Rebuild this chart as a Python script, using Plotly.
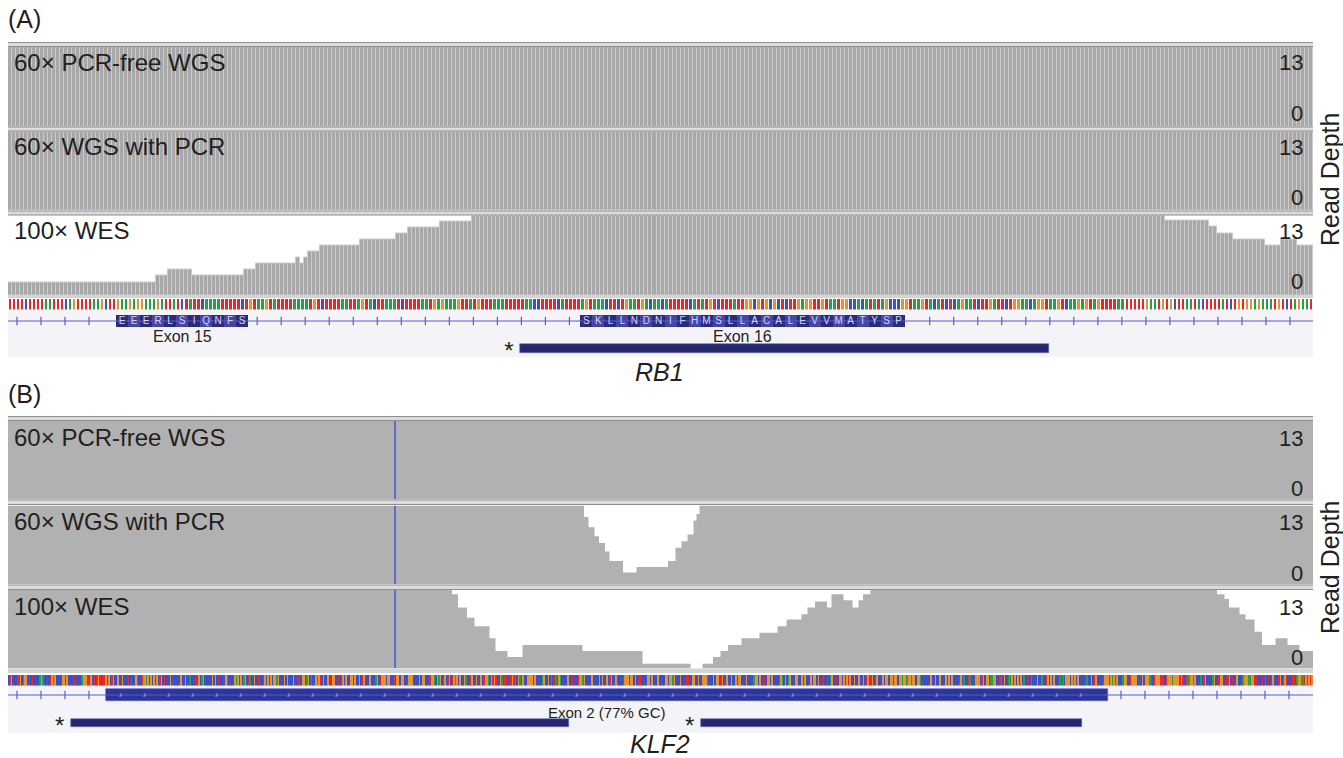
import numpy as np
import plotly.graph_objects as go

W, H = 1343, 758
FONT = "Liberation Sans, Arial, Helvetica, sans-serif"
TXT = "#231f20"

# ---------------- shared labels ----------------
track_names = ["60× PCR-free WGS", "60× WGS with PCR", "100× WES"]
depth_range = [0, 13]
depth_labels = ["13", "0"]
axis_title = "Read Depth"
panel_letters = ["(A)", "(B)"]
gene_names = ["RB1", "KLF2"]

base_colors = {"A": "#22a04a", "C": "#3c4fc4", "G": "#e8922e", "T": "#e8262b"}

# ---------------- Panel A (RB1, ~4 px per base) ----------------
a_intron1 = "TTTTCTTTTAATTTCAGTTTTAAGCTTTCT"[:27]
a_exon15 = "GAAGAGGAAAGATTATCTATTCAAAATTTTTCT"
a_intron2 = "GTAAGTATTTTAAAATGTCTTTTAATTAGTACTTAAATCTTTTAATGAGAAAGTTATGTTTAAATTTTTAACCTTTTCATTTTAAAGTTTTAG"[:83]
a_exon16 = "AGTAAACTTCTGAATGACAACATTTTTCATATGTCTTTATTGGCGTGCGCTCTTGAGGTTGTAATGGCCACATATAGCCCG"
a_intron3 = "GTAAGTACATCTCAGAATCTTGATTCTGGAACAGGTAAGTCAAGAGTAGTTTTAATTTTTGAATGTGCTTAATACTTTTATCTGTGGAGAAATGTCTAGAATCTGC"[:102]
a_seq = a_intron1 + a_exon15 + a_intron2 + a_exon16 + a_intron3

a_pcrfree_start = [0]
a_pcrfree_depth = [13]
a_pcr_start = [0]
a_pcr_depth = [13]
a_wes_start = [0, 37, 40, 46, 59, 62, 72, 73, 74, 75, 78, 88, 97, 100, 108, 116,
               289, 300, 302, 306, 314, 318, 322]
a_wes_depth = [2.1, 3.2, 4.1, 3.2, 4.1, 5.2, 6.2, 5.2, 6.2, 7.1, 8.1, 9.1, 10.1, 11.1, 12.1, 13,
               12.2, 11.2, 10.1, 9.0, 8.1, 9.0, 8.1]

a_exon_start = [27, 143]
a_exon_end = [60, 224]
a_exon_labels = ["Exon 15", "Exon 16"]
a_exon_aa = ["EEERLSIQNFS", "SKLLNDNIFHMSLLACALEVVMATYSP"]
a_amp_start = [128]
a_amp_end = [260]

# ---------------- Panel B (KLF2, ~1.5 px per base) ----------------
b_flank_left = "CTGCCCTTGCAGGCTCTCCCCAGACCTCTGAGCCCCGGTGCCCCTCCCCAGGGTTGCTCTGTCTTCCAG"[:65]
b_exon2 = (
    "GCGCTGCCGCCGCCCTCTCCGACCTGGAGCGCGCGCTGCTCCCGCTCCCCGCCGCCACCCTCGCAGCCCCCGCGCTCCCCGACCCCGAGCGCAGCTACC"
    "GCCTCCTGCGCGCGGAGCCCGCGCCCGCCTTCGGCAGCACCGAGTCGCCGCTGGCCTCCGCGCCGGCGCCGCTGCCCGCCCAGCTGGGCGGCCTCGGCG"
    "GCCTGGGCCCCGCGGCCCTGGACGAGCTGCTGCTGAGCGCCGACCTGCCGCCGCTGGACGTGTCCGACTTCCTGTACGACGCCGGGGCGCCCCAGCCG"
    "CACTACGACCCCGCCTCCCTGGAGCCCCGCCCCGCGCCGCTGCCGTCCCTGGGCGGCGCTTCCCCGGCGCCCGCCCCGGCGGAGCCCGCCCTTCCGGC"
    "CGCCGGGACCCGCGGCTGCTGCCGCCGCGGCCCGCCCCAGGCGCCTCGGCGCCCCTGACGCAGCCCGGCCGCGCCCGCGGCGCCTCCTCAGCCTCGGC"
    "GCGTGCCGCCGCCGCTGCTGCTGCCCGCGGCGGCGGCGGAGGAGGAGGCGGACCCCCCGCCGCCGCCCGCGCGCCCCTGCACCTACCCGGGCTGCGG"
    "CAAGGCCTACGCCAAGCGCGCGCACCTCACCCGCCACCTGCGCGCCCACACGGGCGAGCGCCCCTACCGCTGCCCCTGGCCCGGCTGCGCCCAGCGC"
    "TTCGCCCGCTCCGACGAGCTGTCGCGCCACCTGCGGACGCACACGGGCGAGAAGCCCTACGCCTGCGGAGCTTGCGGCAAGAGCTTCGCGCGCTCCG"
)[:668]
b_flank_right = "GTGAGTGCCCAGGCCTGGGGCTCGCGGGATCTGGGTTTCTGGGAGGGGTGTCTAAGGAGCCCACTGCCCCAGCCTGGCCTTGCTCTGCCCAGGGAAGGTTCCCTCACTCTGCCCTGCTGTCCCTTCAGGAATGTGTGCATAAATTAG"[:137]
b_seq = b_flank_left + b_exon2 + b_flank_right

b_pcrfree_start = [0]
b_pcrfree_depth = [13]
b_pcr_start = [0, 384, 387, 391, 394, 398, 401, 410, 419, 440, 445, 449, 453, 457, 459, 461]
b_pcr_depth = [13, 11.1, 9.4, 7.9, 6.8, 5.4, 3.8, 1.9, 2.8, 3.8, 6.0, 7.1, 8.2, 10.5, 11.6, 13]
b_wes_start = [0, 296, 300, 306, 311, 321, 325, 333, 343, 383, 423, 455, 463, 470, 475, 480,
               489, 501, 513, 519, 529, 533, 538, 546, 549, 557, 563, 567, 570, 575,
               806, 811, 814, 821, 825, 831, 836, 845, 853, 861]
b_wes_depth = [13, 12.3, 10.1, 8.4, 7.0, 5.0, 2.9, 1.9, 3.9, 2.9, 0.8, 0.0, 0.8, 1.9, 2.9, 3.9,
               5.0, 5.9, 7.0, 8.1, 9.0, 10.1, 11.1, 10.1, 12.3, 11.3, 10.1, 11.3, 12.3, 13,
               12.3, 11.5, 10.1, 9.0, 8.1, 6.1, 3.9, 5.0, 3.9, 2.9]
b_marker_pos = 258
b_exon_start = [65]
b_exon_end = [733]
b_exon_labels = ["Exon 2 (77% GC)"]
b_amp_start = [42, 462]
b_amp_end = [374, 716]

# ---------------- layout geometry (pixels) ----------------
X_LEFT, X_RIGHT = 8, 1313
A_tracks_px = [(47, 126.5), (131.5, 210.5), (215.5, 295)]
A_seps_px = [(42.5, 46.5), (127, 131), (211, 215)]
A_band_px = (295, 298)
A_seq_px = (298.5, 309.5)
A_gene_px = (310, 357)
B_tracks_px = [(421, 499.5), (505.5, 584), (590, 668.5)]
B_seps_px = [(416.5, 420.5), (500, 504.5), (585, 589.5)]
B_band_px = (668.5, 673)
B_seq_px = (674.5, 685.5)
B_gene_px = (686, 733)


def fx(p):
    return p / W


def fy(p):
    return 1 - p / H


fig = go.Figure()
_n = [0]


def new_axes(xrange_, yrange_, top, bot):
    _n[0] += 1
    k = _n[0]
    s = "" if k == 1 else str(k)
    fig.update_layout(**{
        "xaxis" + s: dict(domain=[fx(X_LEFT), fx(X_RIGHT)], range=xrange_, anchor="y" + s,
                          visible=False, fixedrange=True),
        "yaxis" + s: dict(domain=[fy(bot), fy(top)], range=yrange_, anchor="x" + s,
                          visible=False, fixedrange=True),
    })
    return "x" + s, "y" + s


def expand(starts, depths, n):
    edges = list(starts) + [n]
    return np.repeat(np.array(depths, dtype=float), np.diff(edges))


shapes = []
annotations = []


def ann(text, xp, yp, size, xanchor="left", yanchor="middle", **kw):
    annotations.append(dict(text=text, x=fx(xp), y=fy(yp), xref="paper", yref="paper",
                            showarrow=False, xanchor=xanchor, yanchor=yanchor,
                            font=dict(size=size, color=TXT, family=FONT), **kw))


def separators(seps, band):
    for t, b in seps:
        shapes.append(dict(type="rect", xref="paper", yref="paper", x0=fx(X_LEFT), x1=fx(X_RIGHT),
                           y0=fy(b), y1=fy(t), fillcolor="#dcdcdc", line=dict(width=0)))
        for yy in (t, b):
            shapes.append(dict(type="line", xref="paper", yref="paper", x0=fx(X_LEFT), x1=fx(X_RIGHT),
                               y0=fy(yy), y1=fy(yy), line=dict(color="#8e8e8e", width=1.2)))
    shapes.append(dict(type="rect", xref="paper", yref="paper", x0=fx(X_LEFT), x1=fx(X_RIGHT),
                       y0=fy(band[1]), y1=fy(band[0]), fillcolor="#d4d4d4", line=dict(width=0)))


def seq_band(seq, top, bot, bar_w):
    n = len(seq)
    xa, ya = new_axes([0, n], [0, 1], top, bot)
    fig.add_trace(go.Bar(x=np.arange(n) + 0.5, y=np.ones(n), width=bar_w,
                         marker=dict(color=[base_colors[b] for b in seq], line=dict(width=0)),
                         xaxis=xa, yaxis=ya, hoverinfo="skip", showlegend=False))


def gene_common(n, xa, ya, exon_s, exon_e, tick_step, tick_off, amp_s, amp_e, amp_y, line_col):
    fig.add_trace(go.Scatter(x=[0, n], y=[0, 0], mode="lines", line=dict(color=line_col, width=1.2),
                             xaxis=xa, yaxis=ya, hoverinfo="skip", showlegend=False))
    ticks = [t for t in np.arange(tick_off, n, tick_step)
             if not any(s - 1 <= t <= e + 1 for s, e in zip(exon_s, exon_e))]
    fig.add_trace(go.Scatter(x=ticks, y=[0] * len(ticks), mode="markers",
                             marker=dict(symbol="line-ns", size=6, line=dict(color=line_col, width=1.2)),
                             xaxis=xa, yaxis=ya, hoverinfo="skip", showlegend=False))
    fig.add_trace(go.Bar(orientation="h", base=amp_s, x=[e - s for s, e in zip(amp_s, amp_e)],
                         y=[amp_y] * len(amp_s), width=0.72,
                         marker=dict(color="#25286f", line=dict(color="#6a6ab8", width=0.6)),
                         xaxis=xa, yaxis=ya, hoverinfo="skip", showlegend=False))
    fig.add_trace(go.Scatter(x=amp_s, y=[amp_y + 0.42] * len(amp_s), mode="text", text=["* "] * len(amp_s),
                             textposition="middle left", textfont=dict(size=24, color=TXT, family=FONT),
                             xaxis=xa, yaxis=ya, hoverinfo="skip", showlegend=False))


# ================= Panel A =================
nA = len(a_seq)
A_cov = [(a_pcrfree_start, a_pcrfree_depth), (a_pcr_start, a_pcr_depth), (a_wes_start, a_wes_depth)]
for (top, bot), (st, dp), name in zip(A_tracks_px, A_cov, track_names):
    xa, ya = new_axes([0, nA], depth_range, top, bot)
    fig.add_trace(go.Bar(x=np.arange(nA) + 0.5, y=expand(st, dp, nA), width=1.0,
                         marker=dict(color="#a8a8a8", line=dict(color="#cbcbcb", width=1)),
                         xaxis=xa, yaxis=ya, hoverinfo="skip", showlegend=False))
    ann(name, 12, top + 15, 24)
    ann(depth_labels[0], 1305, top + 15.5, 22, xanchor="right")
    ann(depth_labels[1], 1305, bot - 13.5, 22, xanchor="right")

separators(A_seps_px, A_band_px)
seq_band(a_seq, A_seq_px[0], A_seq_px[1], 0.68)

xa, ya = new_axes([0, nA], [3.0, -0.917], A_gene_px[0], A_gene_px[1])
shapes.append(dict(type="rect", xref="paper", yref="paper", layer="below", x0=fx(X_LEFT), x1=fx(X_RIGHT),
                   y0=fy(A_gene_px[1]), y1=fy(A_gene_px[0]), fillcolor="#f4f4f8", line=dict(width=0)))
gene_common(nA, xa, ya, a_exon_start, a_exon_end, 6, 2.25, a_amp_start, a_amp_end, 2.275, "#5b5bd0")
for s, e, aa, lab in zip(a_exon_start, a_exon_end, a_exon_aa, a_exon_labels):
    cs = [s + 3 * k for k in range(len(aa))]
    ce = [min(c + 3, e) for c in cs]
    fig.add_trace(go.Bar(orientation="h", base=cs, x=[b - a for a, b in zip(cs, ce)], y=[0] * len(cs),
                         width=0.95,
                         marker=dict(color=["#2b2b7b" if k % 2 == 0 else "#4545a2" for k in range(len(cs))],
                                     line=dict(width=0)),
                         xaxis=xa, yaxis=ya, hoverinfo="skip", showlegend=False))
    fig.add_trace(go.Scatter(x=[(a + b) / 2 for a, b in zip(cs, ce)], y=[0] * len(cs), mode="text",
                             text=list(aa), textfont=dict(size=10, color="#d2d3ff", family=FONT),
                             xaxis=xa, yaxis=ya, hoverinfo="skip", showlegend=False))
    annotations.append(dict(text=lab, x=(s + e) / 2, y=fy(336), xref=xa, yref="paper", showarrow=False,
                            xanchor="center", yanchor="middle", font=dict(size=16, color=TXT, family=FONT)))

# ================= Panel B =================
nB = len(b_seq)
B_cov = [(b_pcrfree_start, b_pcrfree_depth), (b_pcr_start, b_pcr_depth), (b_wes_start, b_wes_depth)]
for (top, bot), (st, dp), name in zip(B_tracks_px, B_cov, track_names):
    xa, ya = new_axes([0, nB], depth_range, top, bot)
    fig.add_trace(go.Scatter(x=list(st) + [nB], y=list(dp) + [dp[-1]], mode="lines", line_shape="hv",
                             line=dict(width=0, color="#b1b1b1"), fill="tozeroy", fillcolor="#b1b1b1",
                             xaxis=xa, yaxis=ya, hoverinfo="skip", showlegend=False))
    fig.add_trace(go.Scatter(x=[b_marker_pos, b_marker_pos], y=depth_range, mode="lines",
                             line=dict(color="#4a5bd4", width=1.6),
                             xaxis=xa, yaxis=ya, hoverinfo="skip", showlegend=False))
    ann(name, 12, top + 16, 24)
    ann(depth_labels[0], 1305, top + 17, 22, xanchor="right")
    ann(depth_labels[1], 1305, bot - 11, 22, xanchor="right")

separators(B_seps_px, B_band_px)
seq_band(b_seq, B_seq_px[0], B_seq_px[1], 0.75)

xa, ya = new_axes([0, nB], [3.17, -0.75], B_gene_px[0], B_gene_px[1])
shapes.append(dict(type="rect", xref="paper", yref="paper", layer="below", x0=fx(X_LEFT), x1=fx(X_RIGHT),
                   y0=fy(B_gene_px[1]), y1=fy(B_gene_px[0]), fillcolor="#f4f4f8", line=dict(width=0)))
gene_common(nB, xa, ya, b_exon_start, b_exon_end, 16, 6, b_amp_start, b_amp_end, 2.33, "#4f5fd6")
fig.add_trace(go.Bar(orientation="h", base=b_exon_start, x=[e - s for s, e in zip(b_exon_start, b_exon_end)],
                     y=[0] * len(b_exon_start), width=1.06,
                     marker=dict(color="#2c3598", line=dict(color="#5560d0", width=0.6)),
                     xaxis=xa, yaxis=ya, hoverinfo="skip", showlegend=False))
chev = [c for s, e in zip(b_exon_start, b_exon_end) for c in np.arange(s + 10, e - 4, 16)]
fig.add_trace(go.Scatter(x=chev, y=[0] * len(chev), mode="text", text=["›"] * len(chev),
                         textfont=dict(size=11, color="#9aa4ff", family=FONT),
                         xaxis=xa, yaxis=ya, hoverinfo="skip", showlegend=False))
for s, e, lab in zip(b_exon_start, b_exon_end, b_exon_labels):
    annotations.append(dict(text=lab, x=(s + e) / 2, y=fy(712), xref=xa, yref="paper", showarrow=False,
                            xanchor="center", yanchor="middle", font=dict(size=15, color=TXT, family=FONT)))

# ================= text =================
ann(panel_letters[0], 6, 19, 25)
ann(panel_letters[1], 6, 394, 25)
ann("<i>%s</i>" % gene_names[0], 659, 372, 25, xanchor="center")
ann("<i>%s</i>" % gene_names[1], 660, 744, 25, xanchor="center")
ann(axis_title, 1330, 180, 25, xanchor="center", textangle=-90)
ann(axis_title, 1330, 568, 25, xanchor="center", textangle=-90)

fig.update_layout(width=W, height=H, margin=dict(l=0, r=0, t=0, b=0),
                  paper_bgcolor="white", plot_bgcolor="rgba(0,0,0,0)",
                  showlegend=False, barmode="overlay", bargap=0,
                  shapes=shapes, annotations=annotations,
                  font=dict(family=FONT, color=TXT))
fig.write_html("out.html", config={"displayModeBar": False},
               post_script="document.body.style.margin='0px';document.body.style.overflow='hidden';")
